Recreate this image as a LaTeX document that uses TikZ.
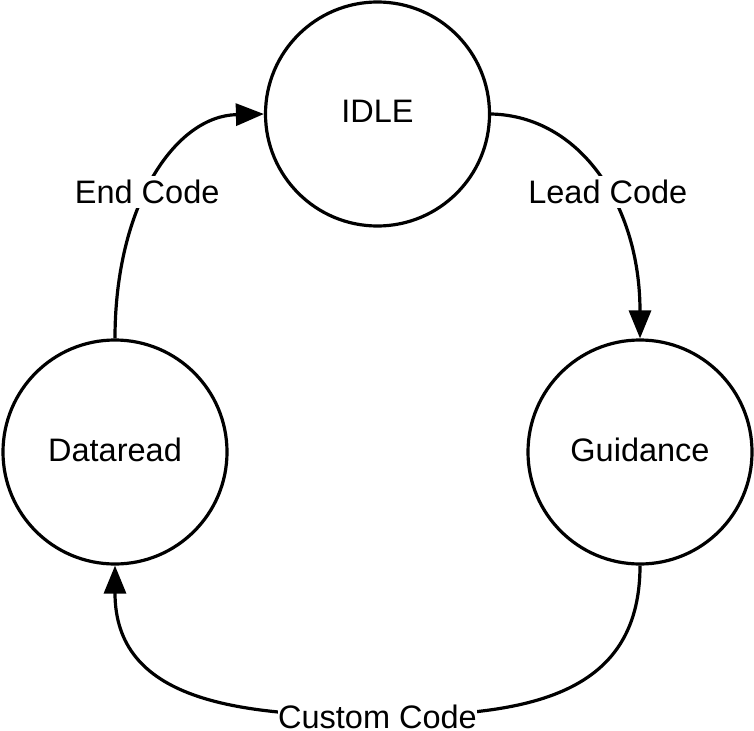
\documentclass[tikz,border=0pt]{standalone}
\usepackage{fontspec}
\setmainfont{Liberation Sans}
\usetikzlibrary{arrows.meta}
\begin{document}
\begin{tikzpicture}[x=1pt,y=-1pt,
  state/.style={circle,draw,line width=3.2pt,minimum size=224pt,inner sep=0pt,font=\fontsize{32.5}{38}\selectfont},
  trans/.style={line width=3.2pt,-{Triangle[length=28pt,width=22pt]}},
  lbl/.style={fill=white,inner sep=4pt,font=\fontsize{32.5}{38}\selectfont}]
\useasboundingbox (0,0) rectangle (754,730);
\node[state] (I) at (377.5,114) {\raisebox{5pt}{IDLE}};
\node[state] (D) at (115,452) {\raisebox{5pt}{Dataread}};
\node[state] (G) at (640,452) {\raisebox{5pt}{Guidance}};
\coordinate (cm) at (377.5,716);
\draw[trans] (D.north) .. controls (115,205) and (175,116) .. node[lbl,pos=0.44] (le) {End Code} (I.west);
\draw[trans] (I.east) .. controls (580,116) and (640,205) .. node[lbl,pos=0.56] (ll) {Lead Code} (G.north);
\draw[trans] (G.south) .. controls (640,700) and (520,716) .. (cm) .. controls (235,716) and (115,700) .. (D.south);
\node[lbl,inner xsep=0pt,anchor=center] (lc) at (377.5,717) {Custom Code};
\end{tikzpicture}
\end{document}
